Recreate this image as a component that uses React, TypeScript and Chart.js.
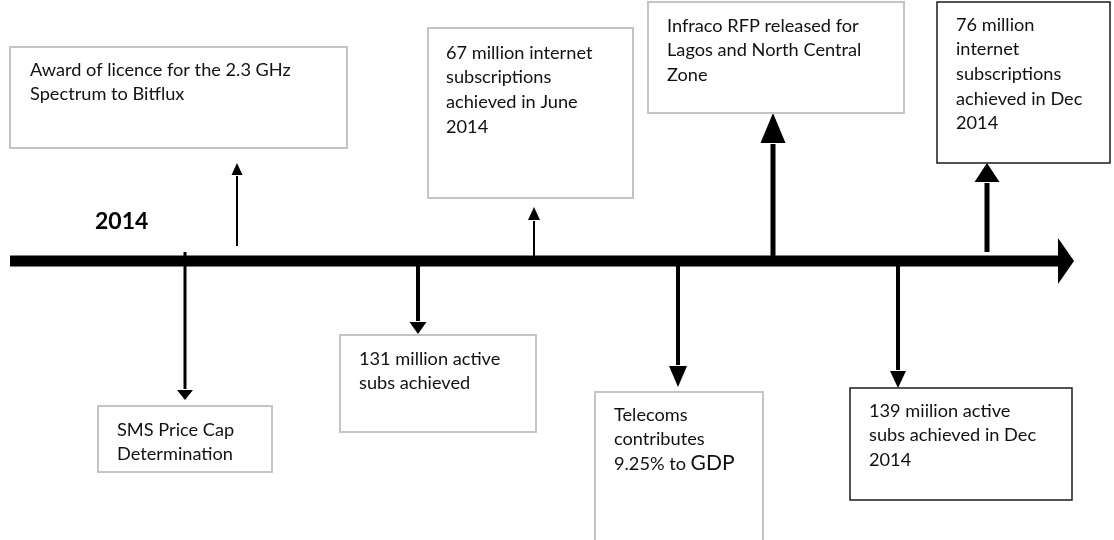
import React, { useEffect, useRef } from "react";
import { Chart, registerables } from "chart.js";

Chart.register(...registerables);

// ---- data ----
const timelineYear = "2014";
const timelineStart = 10;
const timelineEnd = 1060;
const eventPositions = [237, 534, 773, 987, 185, 418, 678, 898];
const eventDirections = ["up", "up", "up", "up", "down", "down", "down", "down"];
const eventTexts: string[][] = [
  ["Award of licence for the 2.3 GHz", "Spectrum to Bitflux"],
  ["67 million internet", "subscriptions", "achieved in June", "2014"],
  ["Infraco RFP released for", "Lagos and North Central", "Zone"],
  ["76 million", "internet", "subscriptions", "achieved in Dec", "2014"],
  ["SMS Price Cap", "Determination"],
  ["131 million active", "subs achieved"],
  ["Telecoms", "contributes", "9.25% to |GDP"],
  ["139 miilion active", "subs achieved in Dec", "2014"],
];

// ---- layout / style (not data) ----
const axisY = 261;
// stem start, head base, head tip, head width, line width
const arrowGeom = [
  [246, 175, 163, 11, 2],
  [256, 220, 207, 12, 2],
  [261, 143, 113, 25, 5],
  [252, 182, 163, 25, 5],
  [252, 390, 400, 16, 3],
  [266, 322, 334, 17, 4],
  [266, 366, 387, 18, 4],
  [266, 371, 388, 16, 4],
];
// box: left, top, right, bottom, dark border?
const boxRects = [
  [10, 47, 347, 148, 0],
  [428, 28, 633, 198, 0],
  [648, 2, 904, 113, 0],
  [937, 2, 1110, 163, 1],
  [98, 406, 272, 472, 0],
  [340, 335, 536, 432, 0],
  [595, 392, 763, 560, 0],
  [850, 388, 1072, 500, 1],
];
const textStarts = [
  [30, 69],
  [446, 52],
  [667, 25],
  [956, 24],
  [117, 429],
  [359, 358],
  [614, 414],
  [869, 410],
];
const lineGap = 24.7;
const FONT = "Lato, 'Open Sans', sans-serif";
const TEXT_PX = 18.2;
const BIG_PX = 21;

const overlay = {
  id: "timelineOverlay",
  afterDatasetsDraw(chart: any) {
    const { ctx, scales } = chart;
    const X = (v: number) => scales.x.getPixelForValue(v);
    const Y = (v: number) => scales.y.getPixelForValue(v);
    ctx.save();
    // timeline arrowhead
    ctx.fillStyle = "#000";
    ctx.beginPath();
    ctx.moveTo(X(timelineEnd - 2), Y(axisY - 23));
    ctx.lineTo(X(1074), Y(axisY));
    ctx.lineTo(X(timelineEnd - 2), Y(axisY + 23));
    ctx.closePath();
    ctx.fill();
    // arrowheads
    eventPositions.forEach((p, i) => {
      const [, base, tip, w] = arrowGeom[i];
      ctx.beginPath();
      ctx.moveTo(X(p - w / 2), Y(base));
      ctx.lineTo(X(p), Y(tip));
      ctx.lineTo(X(p + w / 2), Y(base));
      ctx.closePath();
      ctx.fill();
    });
    // boxes
    boxRects.forEach((b, i) => {
      const [l, t, r, bt, dark] = b;
      ctx.fillStyle = "#fff";
      ctx.fillRect(X(l), Y(t), X(r) - X(l), Y(bt) - Y(t));
      ctx.lineWidth = dark ? 1.5 : 2;
      ctx.strokeStyle = dark ? "#1a1a1a" : "#c4c4c4";
      ctx.strokeRect(X(l), Y(t), X(r) - X(l), Y(bt) - Y(t));
      // text
      ctx.fillStyle = "#111";
      ctx.textBaseline = "alphabetic";
      ctx.textAlign = "left";
      const [tx, ty] = textStarts[i];
      eventTexts[i].forEach((line, k) => {
        const y = Y(ty + k * lineGap) + 6.5;
        const parts = line.split("|");
        let x = X(tx);
        parts.forEach((part, j) => {
          ctx.font = j === 0 ? `${TEXT_PX}px ${FONT}` : `${BIG_PX}px ${FONT}`;
          ctx.fillText(part, x, y);
          x += ctx.measureText(part).width;
        });
      });
    });
    // year label
    ctx.fillStyle = "#000";
    ctx.font = `bold 23px ${FONT}`;
    ctx.textBaseline = "middle";
    ctx.fillText(timelineYear, X(95), Y(222));
    ctx.restore();
  },
};

export default function App() {
  const ref = useRef<HTMLCanvasElement>(null);
  useEffect(() => {
    document.body.style.margin = "0";
    const datasets: any[] = [
      {
        type: "line",
        data: [
          { x: timelineStart, y: axisY },
          { x: timelineEnd, y: axisY },
        ],
        borderColor: "#000",
        borderWidth: 11,
        pointRadius: 0,
        clip: false,
      },
    ];
    eventPositions.forEach((p, i) => {
      const [start, base, , , lw] = arrowGeom[i];
      datasets.push({
        type: "line",
        data: [
          { x: p, y: start },
          { x: p, y: eventDirections[i] === "up" ? base + 1 : base - 1 },
        ],
        borderColor: "#000",
        borderWidth: lw,
        pointRadius: 0,
        clip: false,
      });
    });
    const chart = new Chart(ref.current!, {
      type: "scatter",
      data: { datasets },
      options: {
        animation: false,
        responsive: false,
        maintainAspectRatio: false,
        layout: { padding: 0 },
        plugins: { legend: { display: false }, tooltip: { enabled: false } },
        scales: {
          x: { type: "linear", min: 0, max: 1114, display: false },
          y: { type: "linear", min: 0, max: 540, reverse: true, display: false },
        },
      },
      plugins: [overlay],
    });
    return () => chart.destroy();
  }, []);
  return (
    <div style={{ position: "fixed", left: 0, top: 0, width: 1114, height: 540, background: "#fff" }}>
      <canvas ref={ref} width={1114} height={540} />
    </div>
  );
}
